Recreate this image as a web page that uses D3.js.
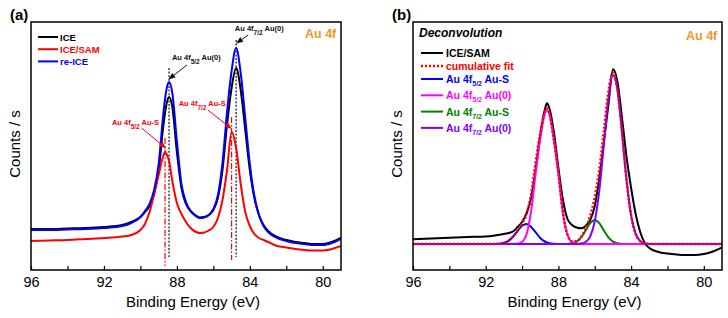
<!DOCTYPE html>
<html>
<head>
<meta charset="utf-8">
<script src="https://cdn.jsdelivr.net/npm/d3@7"></script>
<style>
  body { margin: 0; background: #fff; }
  text { font-family: "Liberation Sans", Arial, sans-serif; }
</style>
</head>
<body>
<svg id="canvas" width="728" height="318"></svg>
<script>
// ---------- data ----------
// binding energy (eV) sampling of panel (a)
const energyA = [96, 95, 94, 93, 92, 91, 90.5, 90, 89.75, 89.5, 89.25, 89,
  88.75, 88.65, 88.5, 88.43, 88.25, 88, 87.75, 87.5, 87.25, 87, 86.75, 86.5,
  86.25, 86, 85.75, 85.5, 85.25, 85, 84.75, 84.5, 84.25, 84, 83.75, 83.5,
  83.25, 83, 82.5, 82, 81.5, 81, 80.5, 80, 79.5, 79];
// counts / s (arbitrary units)
const iceA = [41, 41, 41.5, 42, 43, 45, 48, 53, 58, 64, 76, 100,
  143, 157, 171, 173, 163, 118, 82, 66, 59, 55, 52.5, 53,
  55, 60, 72, 100, 145, 182, 202, 180, 140, 100, 72, 55,
  45, 39, 33, 30, 28, 27, 26, 26, 28, 32];
const iceSamA = [29, 29.5, 30, 31, 32, 33.5, 35, 40, 46, 58, 76, 95,
  114, 118, 113, 109, 89, 67, 56, 48, 42, 38.5, 37, 37.5,
  39.5, 43, 52, 70, 100, 138, 122, 86, 58, 44, 36, 32,
  30, 28, 24, 22.5, 21, 20, 19.5, 19.5, 21, 24];
const reIceA = [40, 40, 40.5, 41, 42, 44, 47, 53, 59, 66, 80, 106,
  155, 171, 186, 188, 177, 129, 86, 68, 59, 54.5, 52, 52.5,
  55, 61, 75, 107, 158, 199, 222, 197, 152, 106, 74, 55,
  44, 38, 32, 29, 27, 26, 25, 25, 27, 31];
const seriesNamesA = ["ICE", "ICE/SAM", "re-ICE"];
const au0Peaks = [88.43, 84.75];   // Au(0) positions (eV)
const ausPeaks = [88.65, 85.0];    // Au-S positions (eV)

// binding energy sampling of panel (b)
const energyB = [96, 95, 94, 93, 92, 91.5, 91, 90.75, 90.5, 90.25, 90, 89.75,
  89.5, 89.25, 89, 88.75, 88.63, 88.5, 88.25, 88, 87.75, 87.5, 87.25, 87,
  86.75, 86.5, 86.25, 86, 85.75, 85.5, 85.25, 85, 84.75, 84.5, 84.25, 84,
  83.75, 83.5, 83.25, 83, 82.5, 82, 81.5, 81, 80.5, 80, 79.5, 79];
const iceSamB = [30.7, 31.5, 32.3, 33, 33.5, 34.5, 36, 37, 38.5, 43, 48, 57,
  72, 101, 135, 160, 166.7, 162, 138, 102, 70, 51, 45, 42.5,
  41.7, 44, 50, 64, 92, 128, 165, 200.7, 188, 152, 113, 82,
  56, 38, 27, 22, 18, 16.5, 15.5, 15, 15, 16, 18.5, 22.7];
const fitB = [26, 26, 26, 26, 26, 26.1, 27.1, 29.2, 33.3, 39.2, 46.2, 56,
  76, 108.6, 137, 158.5, 161.6, 156.8, 130.2, 96, 57, 35.1, 28.7, 28.7,
  33, 41.5, 54.5, 72.8, 100.4, 139, 178.3, 197.4, 180.7, 137.5, 89.6, 54.6,
  36.2, 28.9, 26.6, 26.1, 26, 26, 26, 26, 26, 26, 26, 26];
const au52AuS = [26, 26, 26, 26, 26, 26.1, 27.1, 29.2, 33.2, 38.9, 44.2, 46,
  43, 37.6, 32, 28.5, 27.6, 26.8, 26.2, 26, 26, 26, 26, 26,
  26, 26, 26, 26, 26, 26, 26, 26, 26, 26, 26, 26,
  26, 26, 26, 26, 26, 26, 26, 26, 26, 26, 26, 26];
const au52Au0 = [26, 26, 26, 26, 26, 26, 26, 26, 26.1, 26.3, 28, 36,
  59, 97, 131, 156, 160, 156, 130, 96, 57, 35, 28, 26.3,
  26, 26, 26, 26, 26, 26, 26, 26, 26, 26, 26, 26,
  26, 26, 26, 26, 26, 26, 26, 26, 26, 26, 26, 26];
const au72AuS = [26, 26, 26, 26, 26, 26, 26, 26, 26, 26, 26, 26,
  26, 26, 26, 26, 26, 26, 26, 26, 26, 26.1, 26.7, 28.4,
  32.6, 39.5, 46.8, 50, 46.8, 39.5, 32.6, 28.4, 26.7, 26.1, 26, 26,
  26, 26, 26, 26, 26, 26, 26, 26, 26, 26, 26, 26];
const au72Au0 = [26, 26, 26, 26, 26, 26, 26, 26, 26, 26, 26, 26,
  26, 26, 26, 26, 26, 26, 26, 26, 26, 26, 26, 26,
  26.4, 28, 33.7, 48.8, 79.6, 125.5, 171.7, 195, 180, 137.4, 89.6, 54.6,
  36.2, 28.9, 26.6, 26.1, 26, 26, 26, 26, 26, 26, 26, 26];

const xTickValues = [96, 94, 92, 90, 88, 86, 84, 82, 80];
const xTickLabels = [96, 92, 88, 84, 80];

// ---------- drawing ----------
const svg = d3.select("#canvas");
const defs = svg.append("defs");
const FONT = "'Liberation Sans', Arial, sans-serif";
const ORANGE = "#f7941d";

function marker(id, color) {
  defs.append("marker")
    .attr("id", id)
    .attr("viewBox", "0 0 10 10")
    .attr("refX", 9).attr("refY", 5)
    .attr("markerWidth", 7).attr("markerHeight", 7)
    .attr("orient", "auto")
    .append("path")
    .attr("d", "M0,1 L10,5 L0,9 z")
    .attr("fill", color);
}
marker("arrBlack", "#111");
marker("arrRed", "#ff0000");

// text with an optional subscript part: parts = [[text, isSub], ...]
function richText(sel, parts, size, subSize, shift) {
  let down = false;
  parts.forEach(([t, sub]) => {
    const ts = sel.append("tspan").text(t);
    if (sub && !down) { ts.attr("dy", shift).attr("font-size", subSize); down = true; }
    else if (sub) { ts.attr("font-size", subSize); }
    else if (down) { ts.attr("dy", -shift).attr("font-size", size); down = false; }
    else ts.attr("font-size", size);
  });
}

function makePanel(left, right, letter) {
  const top = 22, bottom = 270;
  const g = svg.append("g");
  const x = d3.scaleLinear().domain([96, 79]).range([left, right]);
  const y = d3.scaleLinear().domain([0, 248]).range([bottom, top]);

  const clipId = "clip" + letter;
  defs.append("clipPath").attr("id", clipId)
    .append("rect").attr("x", left).attr("y", top)
    .attr("width", right - left).attr("height", bottom - top);

  g.append("g")
    .attr("transform", "translate(0," + bottom + ")")
    .call(d3.axisBottom(x).tickValues(xTickValues).tickSize(-4).tickPadding(7)
      .tickFormat(d => xTickLabels.includes(d) ? d : ""))
    .attr("font-family", FONT)
    .attr("font-size", 14.5)
    .call(a => a.select(".domain").remove())
    .call(a => a.selectAll("line").attr("stroke", "#000").attr("stroke-width", 1.2))
    .call(a => a.selectAll("text").attr("fill", "#000"));

  g.append("text")
    .attr("x", (left + right) / 2 + 7).attr("y", 307)
    .attr("text-anchor", "middle").attr("font-size", 15)
    .text("Binding Energy (eV)");

  g.append("text")
    .attr("transform", "translate(" + (left - 11) + ",144) rotate(-90)")
    .attr("text-anchor", "middle").attr("font-size", 15)
    .text("Counts / s");

  g.append("text")
    .attr("x", left - 21).attr("y", 20)
    .attr("font-size", 15).attr("font-weight", "bold")
    .text("(" + letter + ")");

  g.append("text")
    .attr("x", right - 36).attr("y", letter === "a" ? 38 : 40)
    .attr("font-size", 12.5).attr("font-weight", "bold").attr("fill", ORANGE)
    .text("Au 4f");

  const plot = g.append("g").attr("clip-path", "url(#" + clipId + ")");
  return { g, plot, x, y, left, right, top, bottom };
}

function drawLine(p, energies, values, color, width, dash) {
  const line = d3.line()
    .x((d, i) => p.x(energies[i]))
    .y(d => p.y(d))
    .curve(d3.curveMonotoneX);
  const path = p.plot.append("path")
    .datum(values)
    .attr("fill", "none")
    .attr("stroke", color)
    .attr("stroke-width", width)
    .attr("stroke-linejoin", "round")
    .attr("d", line);
  if (dash) path.attr("stroke-dasharray", dash);
  return path;
}

function frame(p) {
  p.g.append("rect")
    .attr("x", p.left).attr("y", p.top)
    .attr("width", p.right - p.left).attr("height", p.bottom - p.top)
    .attr("fill", "none").attr("stroke", "#000").attr("stroke-width", 1.5);
}

// ----- panel (a) -----
const pa = makePanel(31, 341, "a");
const colorsA = ["#000000", "#ff0000", "#0000ff"];

// reference lines at the peak positions
au0Peaks.forEach((e, i) => {
  pa.plot.append("line")
    .attr("x1", pa.x(e)).attr("x2", pa.x(e))
    .attr("y1", pa.y(i === 0 ? 202 : 230)).attr("y2", pa.y(13))
    .attr("stroke", "#333").attr("stroke-width", 1.4).attr("stroke-dasharray", "2,1.6");
});
ausPeaks.forEach((e, i) => {
  pa.plot.append("line")
    .attr("x1", pa.x(e)).attr("x2", pa.x(e))
    .attr("y1", pa.y(i === 0 ? 132 : 153)).attr("y2", pa.y(i === 0 ? 4 : 10))
    .attr("stroke", "#ff0000").attr("stroke-width", 1.2).attr("stroke-dasharray", "6,2,1.5,2");
});

drawLine(pa, energyA, iceA, colorsA[0], 2);
drawLine(pa, energyA, iceSamA, colorsA[1], 2);
drawLine(pa, energyA, reIceA, colorsA[2], 2);

// legend (a)
seriesNamesA.forEach((name, i) => {
  const yy = 37 + i * 12.2;
  pa.g.append("line").attr("x1", 38).attr("x2", 58).attr("y1", yy).attr("y2", yy)
    .attr("stroke", colorsA[i]).attr("stroke-width", 2);
  pa.g.append("text").attr("x", 60).attr("y", yy + 3.5)
    .attr("font-size", 9.5).attr("font-weight", "bold").attr("fill", colorsA[i])
    .text(name);
});

// annotations (a)
const notes = [
  { parts: [["Au 4f", 0], ["5/2", 1], [" Au(0)", 0]], tx: 88.27, th: 210, from: [87.45, 205], to: [88.43, 191], color: "#111", m: "arrBlack" },
  { parts: [["Au 4f", 0], ["7/2", 1], [" Au(0)", 0]], tx: 84.82, th: 239, from: [84.09, 235], to: [84.72, 227], color: "#111", m: "arrBlack" },
  { parts: [["Au 4f", 0], ["5/2", 1], [" Au-S", 0]], tx: 91.56, th: 145, from: [89.93, 142], to: [88.62, 122], color: "#ff0000", m: "arrRed" },
  { parts: [["Au 4f", 0], ["7/2", 1], [" Au-S", 0]], tx: 87.9, th: 164, from: [86.3, 160], to: [85.02, 141.5], color: "#ff0000", m: "arrRed" }
];
notes.forEach(n => {
  const t = pa.g.append("text")
    .attr("x", pa.x(n.tx)).attr("y", pa.y(n.th))
    .attr("font-weight", "bold").attr("fill", n.color);
  richText(t, n.parts, 7.5, 6.5, 4);
  pa.g.append("line")
    .attr("x1", pa.x(n.from[0])).attr("y1", pa.y(n.from[1]))
    .attr("x2", pa.x(n.to[0])).attr("y2", pa.y(n.to[1]))
    .attr("stroke", n.color).attr("stroke-width", 1)
    .attr("marker-end", "url(#" + n.m + ")");
});
frame(pa);

// ----- panel (b) -----
const pb = makePanel(413, 722, "b");
const legendB = [
  { parts: [["ICE/SAM", 0]], color: "#000000", values: iceSamB, dash: null },
  { parts: [["cumulative fit", 0]], color: "#ff0000", values: fitB, dash: "2,2" },
  { parts: [["Au 4f", 0], ["5/2", 1], [" Au-S", 0]], color: "#0000ff", values: au52AuS, dash: null },
  { parts: [["Au 4f", 0], ["5/2", 1], [" Au(0)", 0]], color: "#ff00ff", values: au52Au0, dash: null },
  { parts: [["Au 4f", 0], ["7/2", 1], [" Au-S", 0]], color: "#008000", values: au72AuS, dash: null },
  { parts: [["Au 4f", 0], ["7/2", 1], [" Au(0)", 0]], color: "#8000ff", values: au72Au0, dash: null }
];

drawLine(pb, energyB, iceSamB, "#000000", 2);
[2, 4, 3, 5].forEach(k => drawLine(pb, energyB, legendB[k].values, legendB[k].color, 2));
drawLine(pb, energyB, fitB, "#ff0000", 2.5, "2,2");

pb.g.append("text")
  .attr("x", 419).attr("y", 37)
  .attr("font-size", 12).attr("font-weight", "bold").attr("font-style", "italic")
  .text("Deconvolution");

legendB.forEach((d, i) => {
  const yy = 53 + i * 13 + (i >= 3 ? (i - 2) * 3.3 : 0);
  pb.g.append("line").attr("x1", 421).attr("x2", 443).attr("y1", yy).attr("y2", yy)
    .attr("stroke", d.color).attr("stroke-width", d.dash ? 2.5 : 2)
    .attr("stroke-dasharray", d.dash);
  const t = pb.g.append("text").attr("x", 446).attr("y", yy + 4)
    .attr("font-weight", "bold").attr("fill", d.color);
  richText(t, d.parts, 10.5, 7, 3);
});
frame(pb);
</script>
</body>
</html>
